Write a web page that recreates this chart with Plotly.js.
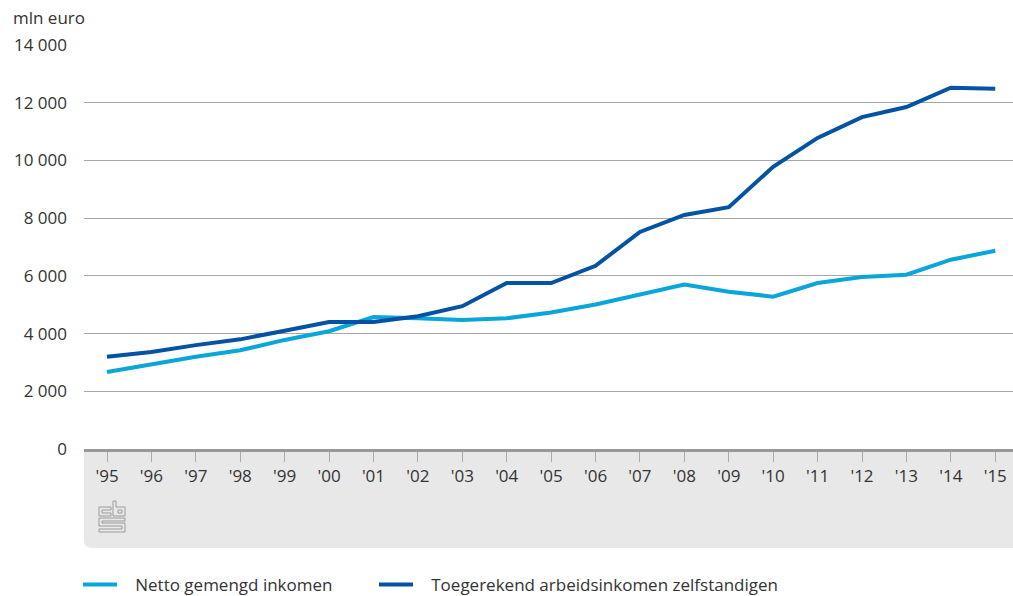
<!DOCTYPE html>
<html>
<head>
<meta charset="utf-8">
<script src="https://cdn.plot.ly/plotly-3.0.1.min.js"></script>
<style>html,body{margin:0;padding:0;background:#fff;}#chart{width:1013px;height:596px;}</style>
</head>
<body>
<div id="chart"></div>
<script>
const years = ["'95","'96","'97","'98","'99","'00","'01","'02","'03","'04","'05","'06","'07","'08","'09","'10","'11","'12","'13","'14","'15"];
const nettoGemengd = [2670,2950,3200,3420,3780,4080,4570,4530,4470,4530,4730,5010,5340,5700,5450,5280,5750,5960,6040,6560,6870];
const toegerekend = [3200,3360,3600,3800,4100,4400,4400,4600,4950,5750,5750,6350,7520,8110,8380,9780,10780,11500,11850,12520,12480];
const seriesNames = ["Netto gemengd inkomen","Toegerekend arbeidsinkomen zelfstandigen"];
const yTicks = [0,2000,4000,6000,8000,10000,12000,14000];

const idx = years.map((_, i) => i);
const FONT = "'Open Sans', 'Noto Sans', sans-serif";
const FS = 17;
const PAD = '\u00a0\u00a0\u00a0';

const traces = [
  {x: idx, y: nettoGemengd, name: PAD + seriesNames[0], type: 'scatter', mode: 'lines',
   line: {color: '#0aa6da', width: 4}, legend: 'legend'},
  {x: idx, y: toegerekend, name: PAD + seriesNames[1], type: 'scatter', mode: 'lines',
   line: {color: '#0452a3', width: 4}, legend: 'legend2'}
];

const W = 929, H = 404;
const ax = 15/W, ay = -52/H;
const logoColor = '#9a9a9a';
const logoPaths = [
  'M12,-6 L0,-6 L0,-15 L12,-15 L12,-12 L3,-12 L3,-9 L12,-9 Z',
  'M14,0 L17,0 L17,-6 L26,-6 L26,-15 L14,-15 Z',
  'M19,-9 L23,-9 L23,-12 L19,-12 Z',
  'M0,-17 L26,-17 L26,-20 L3,-20 L3,-22 L26,-22 L26,-31 L0,-31 L0,-28 L23,-28 L23,-25 L0,-25 Z'
];
const rx = 8/W, ry = 8/H, by = -99/H;

const shapes = [
  {type: 'path', xref: 'paper', yref: 'paper', layer: 'below',
   path: `M0,0 L1,0 L1,${by} L${rx},${by} Q0,${by} 0,${by+ry} Z`,
   fillcolor: '#e8e8e8', line: {width: 0}}
].concat(logoPaths.map(p => ({
  type: 'path', xref: 'paper', yref: 'paper', xsizemode: 'pixel', ysizemode: 'pixel',
  xanchor: ax, yanchor: ay, path: p, line: {color: logoColor, width: 1}, fillcolor: 'rgba(0,0,0,0)'
})));

const legendBase = {
  orientation: 'h', xref: 'container', yref: 'container', xanchor: 'left',
  y: 11/596, yanchor: 'middle', itemwidth: 34,
  font: {size: FS, color: '#333333'}, bgcolor: 'rgba(0,0,0,0)'
};

const layout = {
  width: 1013, height: 596,
  margin: {l: 84, r: 0, t: 45, b: 147},
  paper_bgcolor: '#ffffff', plot_bgcolor: 'rgba(0,0,0,0)',
  font: {family: FONT, size: FS, color: '#333333'},
  separators: ', ',
  showlegend: true,
  xaxis: {
    range: [-0.518, 20.40], tickmode: 'array', tickvals: idx, ticktext: years,
    showgrid: false, zeroline: false, showline: true, linecolor: '#999999', linewidth: 3,
    ticks: 'outside', ticklen: 10, tickcolor: '#aaaaaa', tickwidth: 1,
    tickfont: {size: FS, color: '#333333'}, fixedrange: true
  },
  yaxis: {
    range: [0, 14000], tickmode: 'array', tickvals: yTicks, tickformat: ',d',
    showgrid: true, gridcolor: '#a6a6a6', gridwidth: 1, zeroline: false, showline: false,
    ticks: '', ticklabelstandoff: 16, tickfont: {size: FS, color: '#333333'}, fixedrange: true
  },
  legend: Object.assign({}, legendBase, {x: 78/1013}),
  legend2: Object.assign({}, legendBase, {x: 374/1013}),
  annotations: [
    {text: 'mln euro', xref: 'paper', yref: 'paper', x: -73/W, y: 1 + 27/H,
     xanchor: 'left', yanchor: 'middle', showarrow: false, font: {size: FS, color: '#333333'}}
  ],
  shapes: shapes
};

Plotly.newPlot('chart', traces, layout, {displayModeBar: false, staticPlot: true});
</script>
</body>
</html>
